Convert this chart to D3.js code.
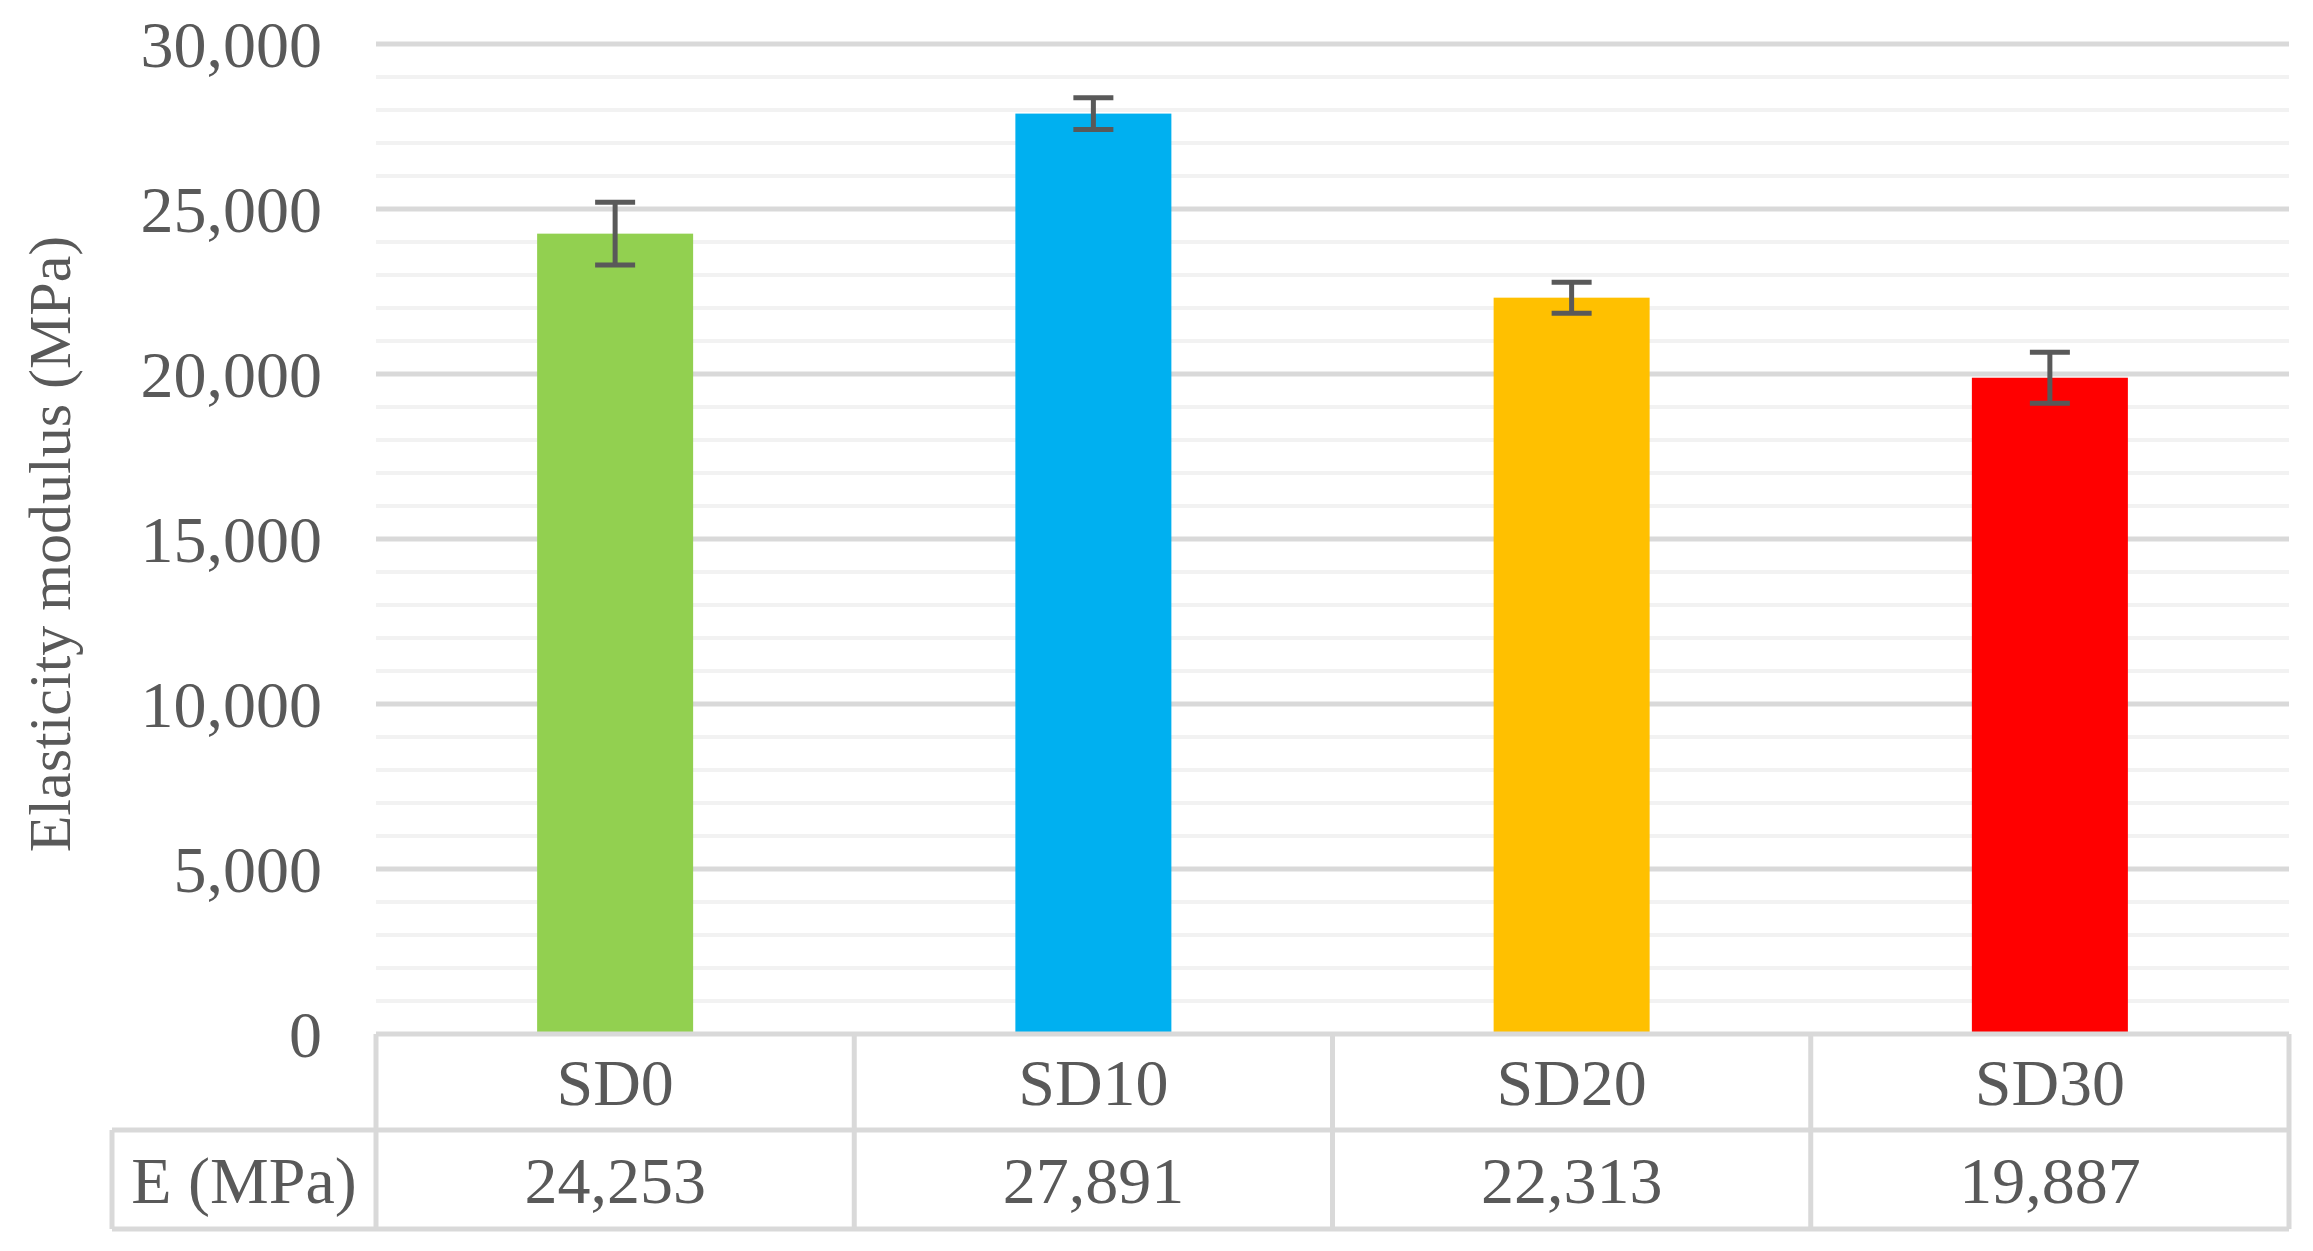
<!DOCTYPE html>
<html><head><meta charset="utf-8">
<script src="https://cdn.jsdelivr.net/npm/d3@7"></script>
<style>body{margin:0;background:#fff}</style></head>
<body><svg id="c" width="2313" height="1251"></svg>
<script>
const categories = ["SD0","SD10","SD20","SD30"];
const values = [24253,27891,22313,19887];
const errors = [950,480,470,770];
const colors = ["#92d050","#00b0f0","#ffc000","#ff0000"];
const valueLabels = ["24,253","27,891","22,313","19,887"];
const rowLabel = "E (MPa)";
const yTitle = "Elasticity modulus (MPa)";

const svg = d3.select("#c");
const L=376,R=2289,T=44,B=1034;
const font="Liberation Serif, Times New Roman, serif", tc="#595959";
const x=d3.scaleBand().domain(categories).range([L,R]).paddingInner(0).paddingOuter(0);
const y=d3.scaleLinear().domain([0,30000]).range([B,T]);

// minor grid
svg.append("g").selectAll("line").data(d3.range(0,30001,1000).filter(v=>v%5000)).join("line")
 .attr("x1",L).attr("x2",R).attr("y1",d=>y(d)).attr("y2",d=>y(d)).attr("stroke","#f2f2f2").attr("stroke-width",4);
svg.append("g").selectAll("line").data(d3.range(5000,30001,5000)).join("line")
 .attr("x1",L).attr("x2",R).attr("y1",d=>y(d)).attr("y2",d=>y(d)).attr("stroke","#d9d9d9").attr("stroke-width",5);

// y ticks
svg.append("g").selectAll("text").data(d3.range(0,30001,5000)).join("text")
 .attr("x",322).attr("y",d=>y(d)).attr("dy","0.35em").attr("text-anchor","end")
 .attr("font-family",font).attr("font-size",66).attr("fill",tc).text(d=>d3.format(",")(d));

svg.append("text").attr("transform",`translate(70,${(T+B)/2+5}) rotate(-90)`).attr("text-anchor","middle")
 .attr("font-family",font).attr("font-size",60).attr("fill",tc).text(yTitle);

// bars
const bw=156;
svg.append("g").selectAll("rect").data(categories).join("rect")
 .attr("x",d=>x(d)+x.bandwidth()/2-bw/2).attr("width",bw)
 .attr("y",(d,i)=>y(values[i])).attr("height",(d,i)=>B-y(values[i])).attr("fill",(d,i)=>colors[i]);

// error bars
const eg=svg.append("g").attr("stroke","#595959").attr("stroke-width",5);
categories.forEach((c,i)=>{
 const cx=x(c)+x.bandwidth()/2, hi=y(values[i]+errors[i]), lo=y(values[i]-errors[i]);
 eg.append("line").attr("x1",cx).attr("x2",cx).attr("y1",hi).attr("y2",lo);
 eg.append("line").attr("x1",cx-20).attr("x2",cx+20).attr("y1",hi).attr("y2",hi);
 eg.append("line").attr("x1",cx-20).attr("x2",cx+20).attr("y1",lo).attr("y2",lo);
});

// table
const r1=1130,r2=1229,TL=112;
const tg=svg.append("g").attr("stroke","#d9d9d9").attr("stroke-width",5).attr("fill","none");
tg.append("line").attr("x1",L).attr("x2",R).attr("y1",B).attr("y2",B);
tg.append("line").attr("x1",TL).attr("x2",R).attr("y1",r1).attr("y2",r1);
tg.append("line").attr("x1",TL).attr("x2",R).attr("y1",r2).attr("y2",r2);
tg.append("line").attr("x1",TL).attr("x2",TL).attr("y1",r1).attr("y2",r2);
[...categories.map(c=>x(c)),R].forEach(v=>tg.append("line").attr("x1",v).attr("x2",v).attr("y1",B).attr("y2",r2));

svg.append("g").selectAll("text").data(categories).join("text")
 .attr("x",d=>x(d)+x.bandwidth()/2).attr("y",(B+r1)/2).attr("dy","0.35em").attr("text-anchor","middle")
 .attr("font-family",font).attr("font-size",66).attr("fill",tc).text(d=>d);
svg.append("g").selectAll("text").data(valueLabels).join("text")
 .attr("x",(d,i)=>x(categories[i])+x.bandwidth()/2).attr("y",(r1+r2)/2).attr("dy","0.35em").attr("text-anchor","middle")
 .attr("font-family",font).attr("font-size",66).attr("fill",tc).text(d=>d);
svg.append("text").attr("x",(TL+L)/2).attr("y",(r1+r2)/2).attr("dy","0.35em").attr("text-anchor","middle")
 .attr("font-family",font).attr("font-size",66).attr("fill",tc).text(rowLabel);
</script></body></html>
